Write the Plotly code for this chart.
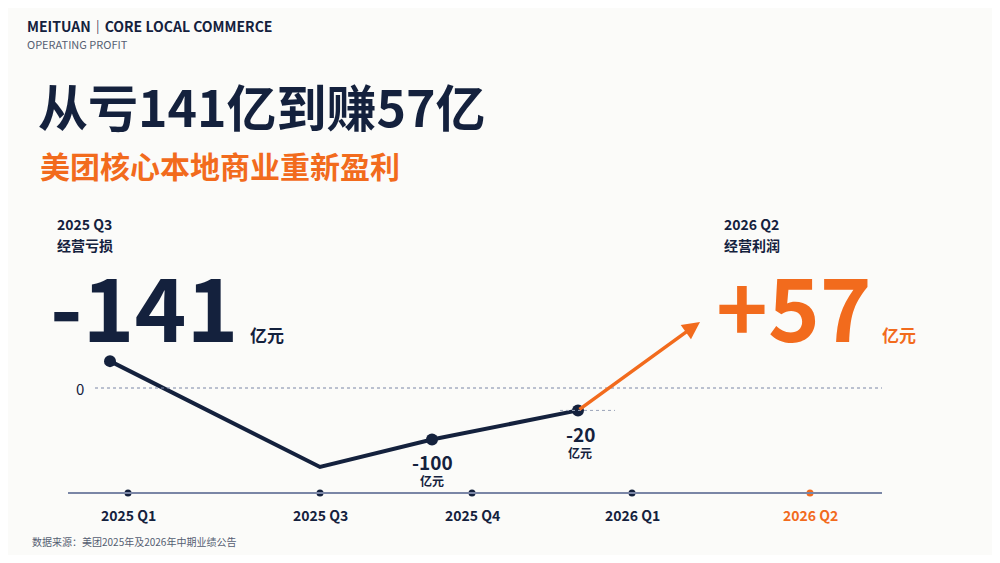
import plotly.graph_objects as go

quarters = ["2025 Q1", "2025 Q3", "2025 Q4", "2026 Q1", "2026 Q2"]
tick_x = [1.28, 3.2, 4.72, 6.32, 8.1]
line_x = [1.1, 3.2, 4.32, 5.78]
line_y = [48, -141, -92, -40]
end_x, end_y = 7.0, 118
pt_x = [1.1, 4.32, 5.78]
pt_y = [48, -92, -40]

NAVY = "#14213d"
ORANGE = "#f26b1d"
FONT = "Noto Sans CJK SC"
AXIS_Y = -187.5

fig = go.Figure()
fig.add_trace(go.Scatter(x=line_x, y=line_y, mode="lines",
                         line=dict(color=NAVY, width=4), hoverinfo="skip"))
fig.add_trace(go.Scatter(x=pt_x, y=pt_y, mode="markers",
                         marker=dict(color=NAVY, size=12), hoverinfo="skip"))
fig.add_trace(go.Scatter(x=tick_x, y=[AXIS_Y]*5, mode="markers",
                         marker=dict(color=[NAVY]*4 + [ORANGE], size=7), hoverinfo="skip"))

shapes = [
    dict(type="line", x0=0.68, x1=8.82, y0=AXIS_Y, y1=AXIS_Y, line=dict(color="#7a86a6", width=2)),
    dict(type="line", x0=0.95, x1=8.82, y0=0, y1=0, line=dict(color="#7a86a6", width=1, dash="dot")),
    dict(type="line", x0=5.6, x1=6.15, y0=line_y[3], y1=line_y[3], line=dict(color="#9aa3b8", width=1, dash="dot")),
]
ann = []
ann.append(dict(x=end_x, y=end_y, ax=line_x[3], ay=line_y[3], xref="x", yref="y", axref="x", ayref="y",
                showarrow=True, arrowhead=2, arrowsize=1, arrowwidth=3.5, arrowcolor=ORANGE, text=""))
for i, q in enumerate(quarters):
    ann.append(dict(x=tick_x[i], y=-227, xref="x", yref="y", text="<b>%s</b>" % q, showarrow=False,
                    font=dict(size=14, color=ORANGE if i == 4 else NAVY, family=FONT)))
ann.append(dict(x=0.8, y=0, xref="x", yref="y", text="0", showarrow=False, font=dict(size=15, color=NAVY, family=FONT)))
ann.append(dict(x=4.32, y=-132, xref="x", yref="y", text="<b>-100</b>", showarrow=False, font=dict(size=19, color=NAVY, family=FONT)))
ann.append(dict(x=4.32, y=-166, xref="x", yref="y", text="<b>亿元</b>", showarrow=False, font=dict(size=12, color=NAVY, family=FONT)))
ann.append(dict(x=5.8, y=-82, xref="x", yref="y", text="<b>-20</b>", showarrow=False, font=dict(size=19, color=NAVY, family=FONT)))
ann.append(dict(x=5.8, y=-116, xref="x", yref="y", text="<b>亿元</b>", showarrow=False, font=dict(size=12, color=NAVY, family=FONT)))

def P(x, y, text, size, color, bold=True, xa="left"):
    ann.append(dict(x=(x-8)/984, y=1-(y-8)/547, xref="paper", yref="paper", text=("<b>%s</b>" % text) if bold else text,
                    showarrow=False, xanchor=xa, yanchor="middle", font=dict(size=size, color=color, family=FONT)))

P(25, 26, "MEITUAN｜CORE LOCAL COMMERCE", 14, NAVY)
P(25, 44, "OPERATING PROFIT", 11, "#555e72", bold=False)
P(36, 105, "从亏141亿到赚57亿", 50, NAVY)
P(38, 165, "美团核心本地商业重新盈利", 30, ORANGE)
P(55, 224, "2025 Q3", 14, NAVY)
P(55, 245, "经营亏损", 14, NAVY)
P(48, 303, "-141", 88, NAVY)
P(248, 334, "亿元", 17, NAVY)
P(722, 224, "2026 Q2", 14, NAVY)
P(722, 245, "经营利润", 14, NAVY)
P(714, 303, "+57", 88, ORANGE)
P(880, 334, "亿元", 17, ORANGE)
P(30, 541, "数据来源：美团2025年及2026年中期业绩公告", 10, "#555e72", bold=False)

fig.update_layout(width=984, height=547, margin=dict(l=0, r=0, t=0, b=0),
                  paper_bgcolor="#fbfbf9", plot_bgcolor="#fbfbf9", showlegend=False,
                  shapes=shapes, annotations=ann,
                  xaxis=dict(range=[0.08, 9.92], visible=False, fixedrange=True),
                  yaxis=dict(range=[-298.2, 678.6], visible=False, fixedrange=True))
fig.write_html("out.html", include_plotlyjs=True)
